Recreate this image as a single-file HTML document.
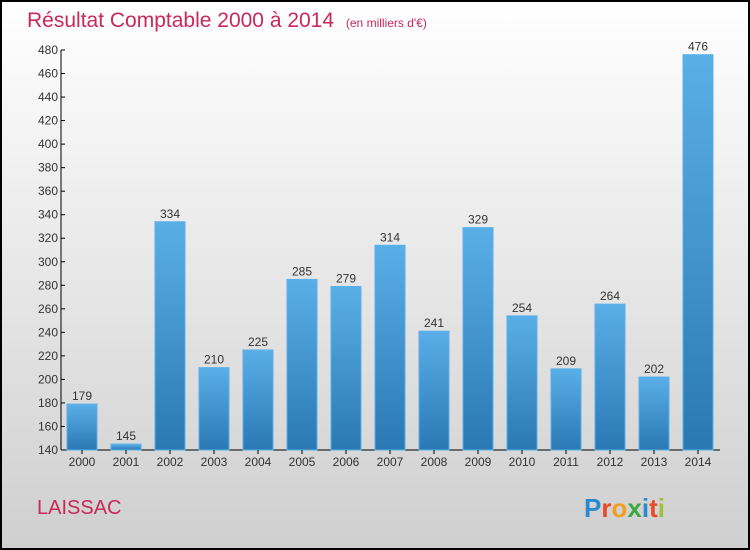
<!DOCTYPE html>
<html><head><meta charset="utf-8"><style>
body{margin:0;}
#c{position:relative;width:750px;height:550px;box-sizing:border-box;border:2px solid #000;background:linear-gradient(#ffffff,#cfcfcf);font-family:"Liberation Sans",sans-serif;overflow:hidden}
</style></head><body>
<div id="c">
<svg width="746" height="546" style="position:absolute;left:0;top:0" id="svg">
<defs><linearGradient id="bg" x1="0" y1="0" x2="0" y2="1"><stop offset="0" stop-color="#5aafe8"/><stop offset="1" stop-color="#2a78b4"/></linearGradient></defs>
<text x="25" y="25" font-size="21" fill="#c8285a">Résultat Comptable 2000 à 2014 <tspan font-size="12" dx="6">(en milliers d'€)</tspan></text>
<text x="35" y="512" font-size="20" fill="#c8285a">LAISSAC</text>
<text x="582" y="515" font-size="26" font-weight="bold"><tspan fill="#2a8ad0">P</tspan><tspan fill="#e84a2a">r</tspan><tspan fill="#f0a020">o</tspan><tspan fill="#3aaa40">x</tspan><tspan fill="#2a8ad0">i</tspan><tspan fill="#e84a2a">t</tspan><tspan fill="#9bc23a">i</tspan></text>
<g id="g"></g>
</svg>
</div>
<script>
const years=["2000","2001","2002","2003","2004","2005","2006","2007","2008","2009","2010","2011","2012","2013","2014"];
const values=[179,145,334,210,225,285,279,314,241,329,254,209,264,202,476];
const ticks=[140,160,180,200,220,240,260,280,300,320,340,360,380,400,420,440,460,480];
const ox=-2,oy=-2;
function y(v){return 450-(v-140)*400/340+oy;}
function x(i){return 82+i*44+ox;}
const g=document.getElementById('g');const NS="http://www.w3.org/2000/svg";
function mk(t,a,txt){const e=document.createElementNS(NS,t);for(const k in a)e.setAttribute(k,a[k]);if(txt!==undefined)e.textContent=txt;g.appendChild(e);return e;}
let e=mk('line',{x1:61+ox,x2:61+ox,y1:y(480),y2:y(140),stroke:'#000'});


e=mk('line',{x1:61+ox,x2:720+ox,y1:y(140),y2:y(140),stroke:'#000'});


ticks.forEach(t=>{
 e=mk('line',{x1:61+ox,x2:65+ox,y1:y(t),y2:y(t),stroke:'#000'});
 
 
 e=mk('text',{x:58+ox,y:y(t)+4,'font-size':12,'text-anchor':'end',fill:'#333'},t);
 
 
});
years.forEach((yr,i)=>{
 const v=values[i];
 e=mk('rect',{x:x(i)-15,y:y(v),width:30,height:y(140)-y(v),fill:'url(#bg)',stroke:'#5ab0ea','stroke-width':1});
 
 
 e=mk('text',{x:x(i),y:y(v)-4,'font-size':12,'text-anchor':'middle',fill:'#333'},v);
 
 
 e=mk('line',{x1:x(i),x2:x(i),y1:y(140),y2:y(140)+4,stroke:'#000'});
 
 
 e=mk('text',{x:x(i),y:y(140)+16,'font-size':12,'text-anchor':'middle',fill:'#333'},yr);
 
 
});
</script>
</body></html>
